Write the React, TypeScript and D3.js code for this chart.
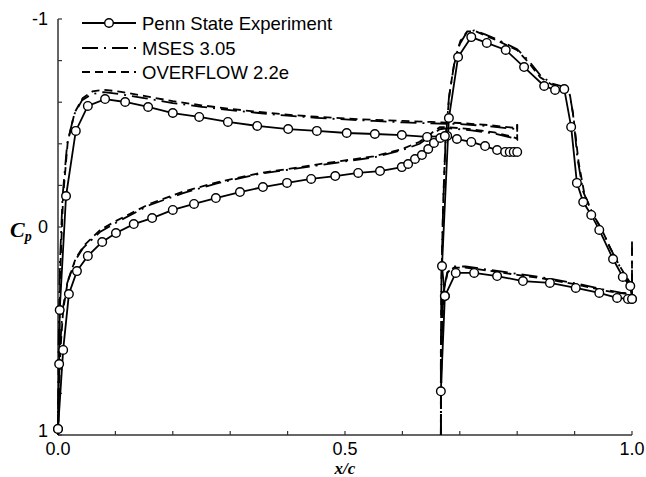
import React, { useEffect, useRef } from "react";
import * as d3 from "d3";

type Pt = [number, number];

// Penn State experiment (x/c, Cp)
const mainUpperExp: Pt[] = [
  [0.000, 0.971], [0.002, 0.659], [0.003, 0.399], [0.014, -0.149], [0.031, -0.462], [0.052, -0.582],
  [0.082, -0.615], [0.117, -0.601], [0.157, -0.577], [0.200, -0.548], [0.246, -0.529], [0.296, -0.505],
  [0.347, -0.486], [0.401, -0.471], [0.451, -0.462], [0.503, -0.452], [0.552, -0.447], [0.599, -0.442],
  [0.643, -0.433], [0.678, -0.438], [0.695, -0.423], [0.720, -0.409], [0.744, -0.389], [0.765, -0.370],
  [0.779, -0.361], [0.787, -0.361], [0.794, -0.361], [0.800, -0.361],
];
const mainLowerExp: Pt[] = [
  [0.000, 0.971], [0.009, 0.591], [0.019, 0.322], [0.033, 0.212], [0.052, 0.139], [0.077, 0.072],
  [0.101, 0.029], [0.132, -0.014], [0.164, -0.043], [0.200, -0.082], [0.237, -0.111], [0.275, -0.139],
  [0.317, -0.168], [0.357, -0.192], [0.399, -0.212], [0.441, -0.231], [0.483, -0.245], [0.523, -0.260],
  [0.561, -0.269], [0.599, -0.288], [0.610, -0.303], [0.622, -0.327], [0.634, -0.346], [0.645, -0.375],
  [0.655, -0.404], [0.666, -0.428], [0.674, -0.437],
];
const flapUpperExp: Pt[] = [
  [0.667, 0.79], [0.674, 0.332], [0.669, 0.188], [0.681, -0.524], [0.697, -0.817], [0.720, -0.913],
  [0.747, -0.885], [0.780, -0.851], [0.812, -0.769], [0.847, -0.678], [0.866, -0.659], [0.882, -0.663],
  [0.894, -0.481], [0.904, -0.212], [0.915, -0.120], [0.929, -0.058], [0.943, 0.014], [0.967, 0.154],
  [0.984, 0.240], [0.997, 0.284], [1.000, 0.346],
];
const flapLowerExp: Pt[] = [
  [0.674, 0.332], [0.693, 0.221], [0.725, 0.221], [0.765, 0.236], [0.810, 0.260], [0.857, 0.269],
  [0.902, 0.293], [0.943, 0.317], [0.974, 0.341], [0.993, 0.346], [1.000, 0.346],
];

// MSES 3.05
const mainUpperMses: Pt[] = [
  [0, 1.0], [0.001, 0.6], [0.003, 0.2], [0.008, -0.15], [0.016, -0.4], [0.028, -0.54], [0.042, -0.61],
  [0.06, -0.64], [0.08, -0.648], [0.11, -0.638], [0.15, -0.62], [0.2, -0.596], [0.25, -0.578],
  [0.3, -0.562], [0.35, -0.548], [0.4, -0.535], [0.45, -0.525], [0.5, -0.517], [0.55, -0.51],
  [0.6, -0.503], [0.65, -0.498], [0.7, -0.495], [0.75, -0.485], [0.8, -0.47],
];
const mainLowerMses: Pt[] = [
  [0, 1.0], [0.003, 0.6], [0.008, 0.4], [0.016, 0.27], [0.03, 0.16], [0.044, 0.1], [0.073, 0.024],
  [0.103, -0.024], [0.16, -0.106], [0.218, -0.163], [0.277, -0.21], [0.35, -0.255], [0.45, -0.295],
  [0.55, -0.335], [0.6, -0.37], [0.63, -0.4], [0.65, -0.44], [0.665, -0.47], [0.68, -0.475],
  [0.72, -0.465], [0.76, -0.45], [0.79, -0.43], [0.8, -0.42], [0.8, -0.495],
];
const flapUpperMses: Pt[] = [
  [0.667, 1.0], [0.667, 0.6], [0.668, 0.25], [0.671, -0.1], [0.675, -0.4], [0.681, -0.62], [0.69, -0.78],
  [0.7, -0.88], [0.712, -0.935], [0.725, -0.945], [0.745, -0.925], [0.77, -0.895], [0.8, -0.855],
  [0.82, -0.8], [0.84, -0.73], [0.86, -0.69], [0.88, -0.675], [0.89, -0.66], [0.897, -0.55],
  [0.905, -0.33], [0.915, -0.17], [0.93, -0.07], [0.945, 0.0], [0.96, 0.09], [0.975, 0.17],
  [0.99, 0.25], [1.0, 0.29],
];
const flapLowerMses: Pt[] = [
  [0.667, 1.0], [0.668, 0.6], [0.671, 0.32], [0.678, 0.22], [0.69, 0.19], [0.71, 0.19], [0.75, 0.205],
  [0.8, 0.225], [0.85, 0.245], [0.9, 0.27], [0.95, 0.3], [0.98, 0.315], [0.995, 0.32], [1.0, 0.32],
  [1.0, 0.07],
];

// OVERFLOW 2.2e
const mainUpperOvf: Pt[] = [
  [0, 1.0], [0.002, 0.6], [0.004, 0.2], [0.009, -0.15], [0.017, -0.41], [0.029, -0.55], [0.043, -0.62],
  [0.06, -0.652], [0.08, -0.66], [0.11, -0.65], [0.15, -0.63], [0.2, -0.605], [0.25, -0.585],
  [0.3, -0.568], [0.35, -0.553], [0.4, -0.54], [0.45, -0.53], [0.5, -0.522], [0.55, -0.515],
  [0.6, -0.51], [0.65, -0.505], [0.7, -0.5], [0.75, -0.49], [0.8, -0.475],
];
const mainLowerOvf: Pt[] = [
  [0, 1.0], [0.004, 0.6], [0.009, 0.4], [0.017, 0.26], [0.031, 0.15], [0.045, 0.09], [0.073, 0.015],
  [0.103, -0.032], [0.16, -0.112], [0.218, -0.17], [0.277, -0.215], [0.35, -0.258], [0.45, -0.3],
  [0.55, -0.34], [0.6, -0.375], [0.63, -0.41], [0.65, -0.45], [0.665, -0.48], [0.68, -0.48],
  [0.72, -0.47], [0.76, -0.455], [0.79, -0.435], [0.8, -0.425], [0.8, -0.49],
];
const flapUpperOvf: Pt[] = [
  [0.667, 1.0], [0.667, 0.6], [0.668, 0.25], [0.671, -0.12], [0.675, -0.42], [0.682, -0.64], [0.691, -0.8],
  [0.701, -0.895], [0.713, -0.94], [0.727, -0.942], [0.745, -0.92], [0.77, -0.89], [0.8, -0.85],
  [0.82, -0.79], [0.84, -0.72], [0.86, -0.685], [0.88, -0.67], [0.891, -0.65], [0.898, -0.53],
  [0.907, -0.31], [0.917, -0.16], [0.932, -0.06], [0.947, 0.01], [0.962, 0.1], [0.977, 0.18],
  [0.99, 0.24], [1.0, 0.28],
];
const flapLowerOvf: Pt[] = [
  [0.667, 1.0], [0.668, 0.6], [0.672, 0.31], [0.679, 0.215], [0.69, 0.195], [0.71, 0.195], [0.75, 0.21],
  [0.8, 0.23], [0.85, 0.25], [0.9, 0.275], [0.95, 0.305], [0.98, 0.318], [0.995, 0.322], [1.0, 0.322],
  [1.0, 0.08],
];

const legendLabels = ["Penn State Experiment", "MSES 3.05", "OVERFLOW 2.2e"];
const xTicks = d3.range(0, 11).map((i) => i / 10);
const yTicks = d3.range(0, 11).map((i) => -1 + i * 0.2);
const xLabels = [0, 0.5, 1];
const yLabels = [-1, 0, 1];

const W = 646;
const H = 477;
const MSES_DASH = "16,6,2,6";
const OVF_DASH = "8,5";

export default function App() {
  const ref = useRef<SVGSVGElement>(null);

  useEffect(() => {
    const svg = d3.select(ref.current);
    svg.selectAll("*").remove();

    const x = d3.scaleLinear().domain([0, 1]).range([58, 632]);
    const y = d3.scaleLinear().domain([-1, 1]).range([19, 435]);
    const line = d3.line<Pt>().x((d) => x(d[0])).y((d) => y(d[1]));

    const axisColor = "#333";
    const font = "'Liberation Sans', Arial, Helvetica, sans-serif";
    const serif = "'Liberation Serif', 'Times New Roman', serif";

    // axes
    const ax = svg.append("g");
    ax.append("line").attr("x1", x(0)).attr("x2", x(0)).attr("y1", y(-1)).attr("y2", y(1))
      .attr("stroke", axisColor).attr("stroke-width", 1.5);
    ax.append("line").attr("x1", x(0)).attr("x2", x(1)).attr("y1", y(1)).attr("y2", y(1))
      .attr("stroke", axisColor).attr("stroke-width", 1.5);
    ax.selectAll(".xt").data(xTicks).join("line")
      .attr("x1", (d) => x(d)).attr("x2", (d) => x(d))
      .attr("y1", y(1)).attr("y2", y(1) - 4)
      .attr("stroke", axisColor).attr("stroke-width", 1.2);
    ax.selectAll(".yt").data(yTicks).join("line")
      .attr("x1", x(0)).attr("x2", x(0) + 4)
      .attr("y1", (d) => y(d)).attr("y2", (d) => y(d))
      .attr("stroke", axisColor).attr("stroke-width", 1.2);

    ax.selectAll(".xl").data(xLabels).join("text")
      .attr("x", (d) => x(d)).attr("y", y(1) + 20)
      .attr("text-anchor", "middle").attr("font-family", font).attr("font-size", 18)
      .text((d) => d.toFixed(1));
    ax.selectAll(".yl").data(yLabels).join("text")
      .attr("x", x(0) - 10).attr("y", (d) => y(d) + (d === 1 ? 2 : 6))
      .attr("text-anchor", "end").attr("font-family", font).attr("font-size", 18)
      .text((d) => String(d));

    const cp = ax.append("text").attr("x", 10).attr("y", 237)
      .attr("font-family", serif)
      .attr("font-style", "italic").attr("font-weight", "bold").attr("font-size", 22);
    cp.append("tspan").text("C");
    cp.append("tspan").attr("font-size", 14).attr("dy", 4).text("p");

    ax.append("text").attr("x", x(0.5)).attr("y", 474).attr("text-anchor", "middle")
      .attr("font-family", serif)
      .attr("font-style", "italic").attr("font-weight", "bold").attr("font-size", 17)
      .text("x/c");

    // CFD curves
    const plot = svg.append("g").attr("fill", "none").attr("stroke", "#000");
    [mainUpperOvf, mainLowerOvf, flapUpperOvf, flapLowerOvf].forEach((s) => {
      plot.append("path").attr("d", line(s)).attr("stroke-width", 1.8).attr("stroke-dasharray", OVF_DASH);
    });
    [mainUpperMses, mainLowerMses, flapUpperMses, flapLowerMses].forEach((s) => {
      plot.append("path").attr("d", line(s)).attr("stroke-width", 1.8).attr("stroke-dasharray", MSES_DASH);
    });

    // experiment
    const exp = [mainUpperExp, mainLowerExp, flapUpperExp, flapLowerExp];
    exp.forEach((s) => {
      plot.append("path").attr("d", line(s)).attr("stroke-width", 1.8);
    });
    exp.forEach((s) => {
      plot.append("g").selectAll("circle").data(s).join("circle")
        .attr("cx", (d) => x(d[0])).attr("cy", (d) => y(d[1])).attr("r", 4.3)
        .attr("fill", "#fff").attr("stroke", "#000").attr("stroke-width", 1.4);
    });

    // legend
    const lg = svg.append("g");
    const rows = [23, 48, 72];
    const dashes = [null, MSES_DASH, OVF_DASH];
    legendLabels.forEach((label, i) => {
      lg.append("line").attr("x1", 82).attr("x2", 136).attr("y1", rows[i]).attr("y2", rows[i])
        .attr("stroke", "#000").attr("stroke-width", 1.8)
        .attr("stroke-dasharray", dashes[i]);
      if (i === 0) {
        lg.append("circle").attr("cx", 109).attr("cy", rows[i]).attr("r", 4.3)
          .attr("fill", "#fff").attr("stroke", "#000").attr("stroke-width", 1.4);
      }
      lg.append("text").attr("x", 142).attr("y", rows[i] + 6.5)
        .attr("font-family", font).attr("font-size", 18.5).text(label);
    });
  }, []);

  return (
    <svg ref={ref} width={W} height={H}
      style={{ position: "absolute", left: 0, top: 0, background: "#fff" }} />
  );
}
